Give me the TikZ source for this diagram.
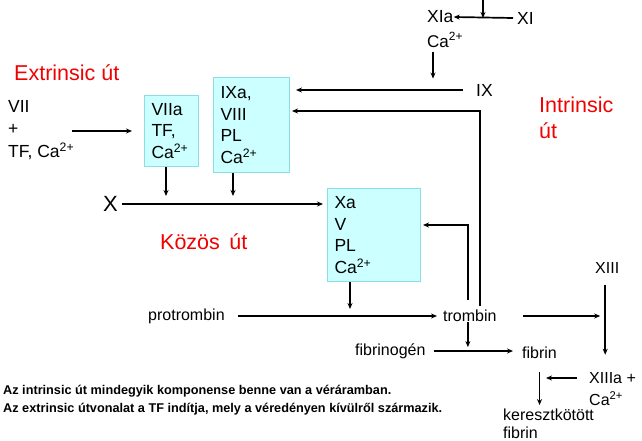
\documentclass[tikz,border=0pt]{standalone}
\usepackage{fontspec}
\setmainfont{Liberation Sans}
\usetikzlibrary{arrows.meta, positioning}
\definecolor{boxfill}{RGB}{204,255,255}
\definecolor{boxline}{RGB}{140,222,226}
\definecolor{pathred}{RGB}{240,0,0}
\newcommand{\caion}{Ca\textsuperscript{2+}}

\begin{document}
\begin{tikzpicture}[x=1pt,y=-1pt,
   arr/.style={-{Stealth[length=6pt,width=5pt]},line width=1.7pt},
   lbl/.style={anchor=west,inner sep=0pt,font=\fontsize{17.5}{22.5}\selectfont,align=left},
   small/.style={anchor=west,inner sep=0pt,font=\fontsize{16}{18}\selectfont,align=left},
   pathname/.style={anchor=west,inner sep=0pt,text=pathred,font=\fontsize{21.5}{25}\selectfont,align=left},
   note/.style={anchor=west,inner sep=0pt,font=\bfseries\fontsize{12.7}{14}\selectfont},
   cbox/.style={draw=boxline,fill=boxfill,line width=1pt,anchor=north west,align=left,
      inner xsep=7pt,font=\fontsize{17.5}{21.7}\selectfont}]
\useasboundingbox (0,0) rectangle (642,441);

% pathway titles
\node[pathname] (extr) at (14,73) {Extrinsic út};
\node[pathname,font=\fontsize{21.5}{25.5}\selectfont,anchor=north west] (intr) at (539,97) {Intrinsic\\út};
\node[pathname] (kozos) at (160,242) {Közös\, út};

% complexes
\node[cbox,text width=40,minimum height=71] (viia) at (144,95) {VIIa\\TF,\\\caion};
\node[cbox,text width=62,minimum height=95] (ixa) at (213,77) {IXa,\\VIII\\PL\\\caion};
\node[cbox,text width=79,minimum height=93] (xa) at (327,188) {Xa\\V\\PL\\\caion};

% factors
\node[lbl] (vii) at (8,130) {VII\\+\\TF, \caion};
\node[lbl,font=\fontsize{22}{24}\selectfont] (x) at (103,204) {X};
\node[lbl] (ix) at (476,90) {IX};
\node[lbl] (xi) at (517,18) {XI};
\node[lbl] (xia) at (427,17) {XIa};
\node[small,font=\fontsize{17}{19}\selectfont] (caxi) at (427,40) {\caion};
\node[small] (protr) at (148,316) {protrombin};
\node[small] (tromb) at (443,316) {trombin};
\node[small] (fibrg) at (355,351) {fibrinogén};
\node[small] (fibr) at (522,353) {fibrin};
\node[small] (xiii) at (595,268) {XIII};
\node[small] (xiiia) at (589,378) {XIIIa +};
\node[small] (caxiii) at (589,399) {\caion};
\node[small,anchor=north west] (keresz) at (503,409) {keresztkötött\\fibrin};

\node[note] (n1) at (3,391) {Az intrinsic út mindegyik komponense benne van a véráramban.};
\node[note] (n2) at (3,409) {Az extrinsic útvonalat a TF indítja, mely a véredényen kívülről származik.};

% extrinsic branch
\draw[arr] ([xshift=-2]vii.east |- viia.west) -- ([xshift=-12]viia.west);
\draw[arr] ([xshift=22]viia.south west) -- ++(0,29);
\draw[arr] ([xshift=20]ixa.south west) -- ++(0,23);
\draw[arr] ([xshift=4]x.east) -- ([xshift=-4]xa.west |- x.east);

% intrinsic branch
\coordinate (xitop) at (483,-2);
\draw[arr] ([xshift=-4]xi.west) -- (xia.east);
\draw[arr] (xitop) -- (xitop |- xi.west);
\draw[arr] ([xshift=6,yshift=-4]caxi.south west) -- ++(0,27);
\draw[arr] ([xshift=-13]ix.west) -- ([xshift=6]ixa.east |- ix.west);

% common pathway
\draw[arr] ([xshift=23]xa.south west) -- ++(0,27);
\draw[arr] ([xshift=13]protr.east) -- ([xshift=-6]tromb.west);
\draw[arr] ([xshift=10,yshift=4]tromb.north) |- ([xshift=2]ixa.east |- 0,111);
\draw[arr] ([xshift=-2,yshift=10]tromb.north) |- ([xshift=2]xa.east |- 0,225);
\draw[arr] ([xshift=-2]tromb.south) -- ++(0,25);
\draw[arr] ([xshift=8]fibrg.east) -- ([xshift=-9]fibr.west |- fibrg.east);
\draw[arr] ([xshift=26]tromb.east) -- ([xshift=-7]xiii.south |- tromb.east);
\draw[arr] ([xshift=-2,yshift=-11]xiii.south) -- ++(0,70);
\draw[arr] ([xshift=-12]xiiia.west) -- ++(-31,0);
\draw[arr] ([yshift=-13]fibr.south) -- ++(0,33);
\end{tikzpicture}
\end{document}
